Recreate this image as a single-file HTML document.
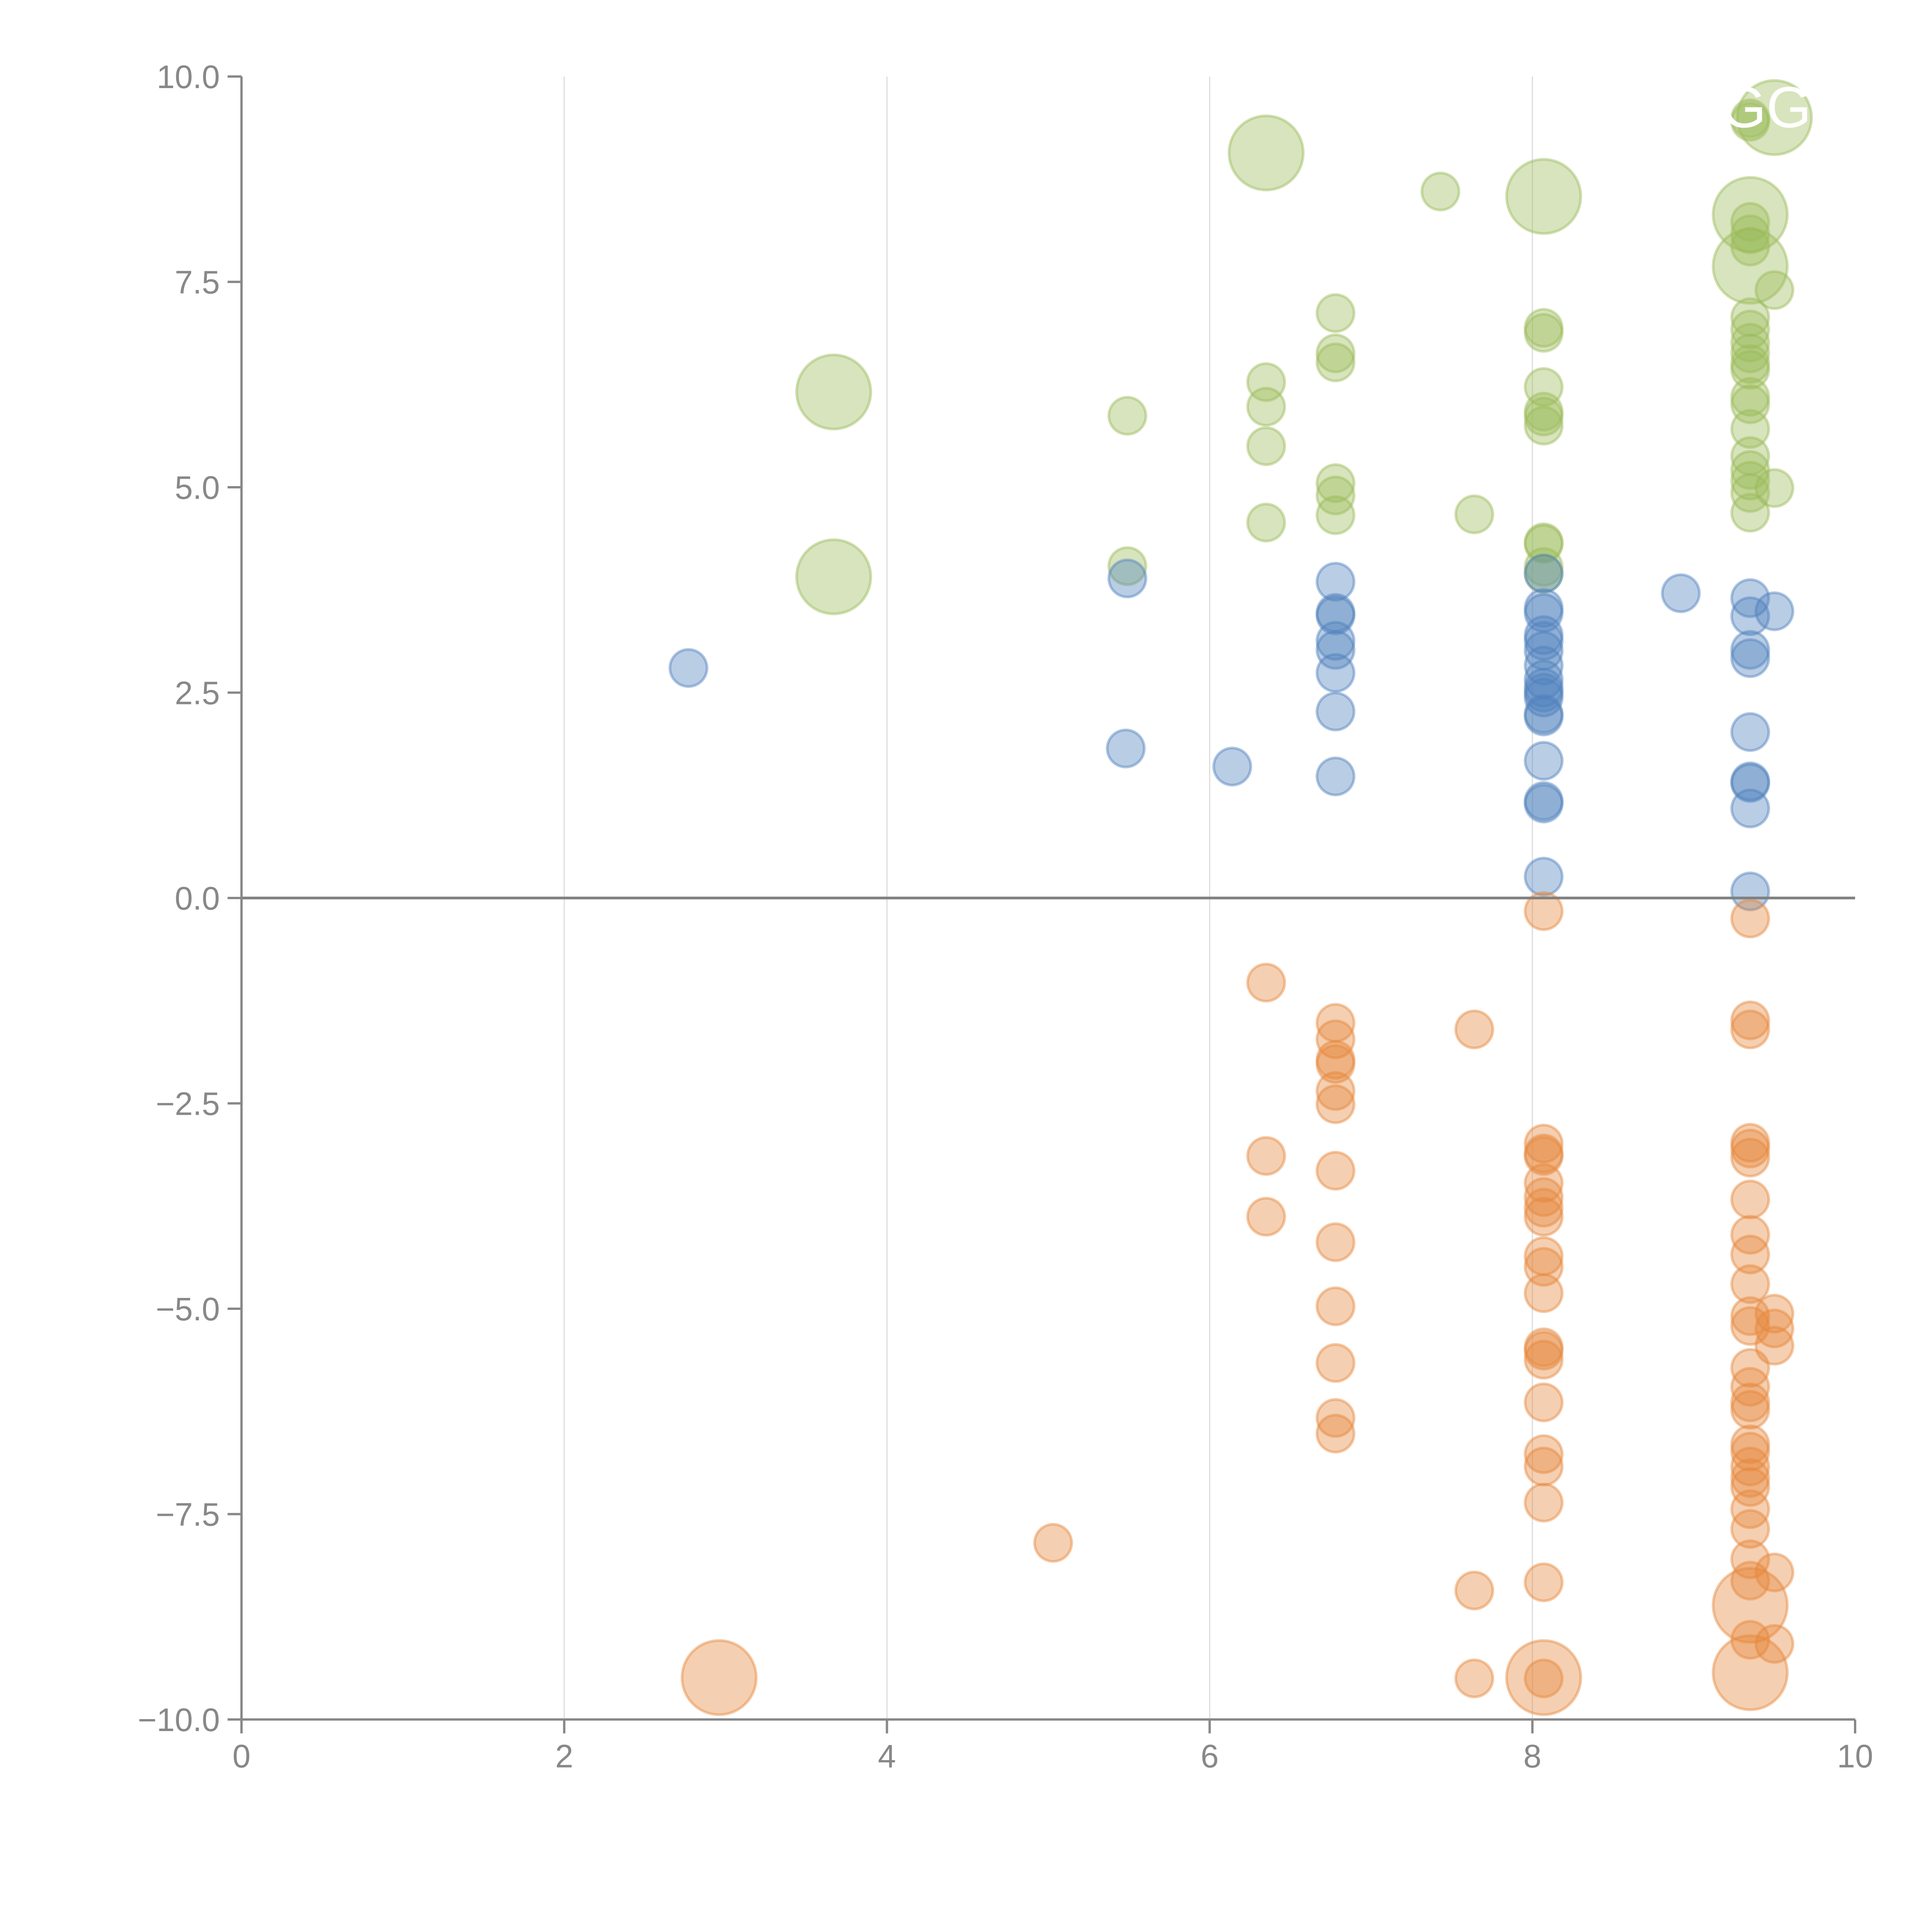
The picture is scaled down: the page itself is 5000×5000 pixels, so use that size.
<!DOCTYPE html>
<html><head><meta charset="utf-8"><style>html,body{margin:0;padding:0;background:#fff}svg{display:block}</style></head>
<body>
<svg id="chart" width="5000" height="5000" viewBox="0 0 5000 5000" xmlns="http://www.w3.org/2000/svg" font-family="'Liberation Sans', sans-serif">
<rect width="5000" height="5000" fill="#fff"/>
<g id="grid"></g>
<g id="marks"></g>
<g id="axes"></g>
</svg>
<script>
const xTicks = [0,2,4,6,8,10];
const yTicks = [10,7.5,5,2.5,0,-2.5,-5,-7.5,-10];
const yTickLabels = ["10.0","7.5","5.0","2.5","0.0","\u22122.5","\u22125.0","\u22127.5","\u221210.0"];

const blueX = [2.77,5.49,5.48,6.14,6.78,6.78,6.78,6.78,6.78,6.78,6.78,6.78,
 8.07,8.07,8.07,8.07,8.07,8.07,8.07,8.07,8.07,8.07,8.07,8.07,8.07,8.07,8.07,8.07,8.07,
 8.92,9.35,9.35,9.35,9.35,9.35,9.35,9.35,9.35,9.35,9.50];
const blueY = [2.80,3.89,1.82,1.60,3.85,3.47,3.44,3.13,3.02,2.74,2.27,1.48,
 3.95,3.53,3.47,3.20,3.13,3.01,2.83,2.66,2.56,2.50,2.44,2.24,2.21,1.67,1.18,1.15,0.26,
 3.71,3.65,3.43,3.02,2.92,2.02,1.42,1.40,1.09,0.08,3.49];
const blueS = blueX.map(()=>1);

const greenX = [3.67,3.67,5.49,5.49,6.35,6.35,6.35,6.35,6.35,
 6.78,6.78,6.78,6.78,6.78,6.78,7.43,7.64,8.07,
 8.07,8.07,8.07,8.07,8.07,8.07,8.07,8.07,8.07,8.07,
 9.35,9.35,9.50,9.35,9.35,9.35,9.35,9.35,9.50,
 9.35,9.35,9.35,9.35,9.35,9.35,9.35,9.35,9.35,9.35,9.35,9.35,9.35,9.35,9.50];
const greenY = [6.16,3.91,5.87,4.04,9.07,6.28,5.98,5.50,4.57,
 7.12,6.63,6.52,5.05,4.90,4.66,8.60,4.67,8.54,
 6.94,6.88,6.22,5.92,5.86,5.75,4.33,4.31,4.03,3.95,
 9.49,9.45,9.50,8.32,8.23,8.08,7.93,7.69,7.40,
 7.07,6.92,6.76,6.63,6.50,6.43,6.10,6.01,5.71,5.38,5.21,5.08,4.93,4.69,4.99];
const greenS = [2,2,1,1,2,1,1,1,1, 1,1,1,1,1,1,1,1,2, 1,1,1,1,1,1,1,1,1,1,
 1,1,2,2,1,1,1,2,1, 1,1,1,1,1,1,1,1,1,1,1,1,1,1,1];

const orangeX = [2.96,5.03,6.35,6.35,6.35,
 6.78,6.78,6.78,6.78,6.78,6.78,6.78,6.78,6.78,6.78,6.78,6.78,
 7.64,7.64,7.64,8.07,
 8.07,8.07,8.07,8.07,8.07,8.07,8.07,8.07,8.07,8.07,8.07,8.07,8.07,8.07,8.07,8.07,8.07,8.07,
 8.07,8.07,9.35,
 9.35,9.35,9.35,9.35,9.35,9.35,9.35,9.35,9.35,9.35,9.35,9.35,9.35,9.35,9.35,9.35,9.35,9.35,9.35,9.35,9.35,9.35,9.35,9.35,9.35,
 9.35,9.35,9.50,9.50,9.50,9.50,9.50];
const orangeY = [-9.49,-7.85,-1.03,-3.14,-3.88,
 -1.52,-1.72,-1.97,-2.02,-2.35,-2.51,-3.32,-4.19,-4.97,-5.66,-6.33,-6.52,
 -1.60,-8.43,-9.50,-0.16,
 -2.99,-3.11,-3.14,-3.47,-3.64,-3.77,-3.88,-4.36,-4.49,-4.81,-5.47,-5.51,-5.62,-6.14,-6.77,-6.92,-7.36,-8.33,
 -9.49,-9.50,-0.25,
 -1.49,-1.60,-2.98,-3.05,-3.16,-3.67,-4.10,-4.34,-4.70,-5.09,-5.21,-5.72,-5.95,-6.14,-6.23,-6.65,-6.74,-6.92,-7.06,-7.17,-7.44,-7.68,-8.05,-8.31,-9.03,
 -8.61,-9.43,-5.06,-5.24,-5.45,-8.21,-9.08];
const orangeS = orangeY.map((v,i)=> (i===0||i===39||i===67||i===68)?2:1);

const X0=625, X1=4801, YT=198, YB=4450;
function sx(v){return X0+(v-0)/(10-0)*(X1-X0);}
function sy(v){return YB-(v+10)/20*(YB-YT);}
function rad(s){return s===2?96:48;}

const NS="http://www.w3.org/2000/svg";
function mk(tag,attrs,parent){const e=document.createElementNS(NS,tag);for(const k in attrs)e.setAttribute(k,attrs[k]);parent.appendChild(e);return e;}

const grid=document.getElementById('grid');
xTicks.forEach(t=>{ if(t>0&&t<10){
  const l=mk('line',{x1:sx(t),x2:sx(t),y1:YT,y2:YB,stroke:'#dcdcdc','stroke-width':3},grid);
  
  
}});

const marks=document.getElementById('marks');
function series(xs,ys,ss,color,name){
  const g=mk('g',{},marks);
  
  
  xs.forEach((x,i)=>{
    const c=mk('circle',{cx:sx(x),cy:sy(ys[i]),r:rad(ss[i]),fill:color,'fill-opacity':0.4,stroke:color,'stroke-opacity':0.45,'stroke-width':7},g);
    
    
  });
}
series(greenX,greenY,greenS,'#9bbb59','green');
series(blueX,blueY,blueS,'#4f81bd','blue');
series(orangeX,orangeY,orangeS,'#e6883c','orange');

const lbl=mk('text',{x:sx(9.45),y:sy(9.5)+25,'font-size':150,fill:'#fff','text-anchor':'middle'},marks);
lbl.textContent='GG';



const axes=document.getElementById('axes');
const zl=mk('line',{x1:X0,x2:X1,y1:sy(0),y2:sy(0),stroke:'#808080','stroke-width':7},axes);


const ya=mk('line',{x1:X0,x2:X0,y1:YT,y2:YB,stroke:'#888','stroke-width':6},axes);


const xa=mk('line',{x1:X0,x2:X1,y1:YB,y2:YB,stroke:'#888','stroke-width':6},axes);


yTicks.forEach((t,i)=>{
  const tk=mk('line',{x1:X0-36,x2:X0,y1:sy(t),y2:sy(t),stroke:'#888','stroke-width':6},axes);
  
  
  const tx=mk('text',{x:X0-56,y:sy(t)+30,'font-size':84,fill:'#888','text-anchor':'end'},axes);
  tx.textContent=yTickLabels[i];
  
  
});
xTicks.forEach(t=>{
  const tk=mk('line',{x1:sx(t),x2:sx(t),y1:YB,y2:YB+36,stroke:'#888','stroke-width':6},axes);
  
  
  const tx=mk('text',{x:sx(t),y:YB+124,'font-size':84,fill:'#888','text-anchor':'middle'},axes);
  tx.textContent=String(t);
  
  
});
</script>
</body></html>
